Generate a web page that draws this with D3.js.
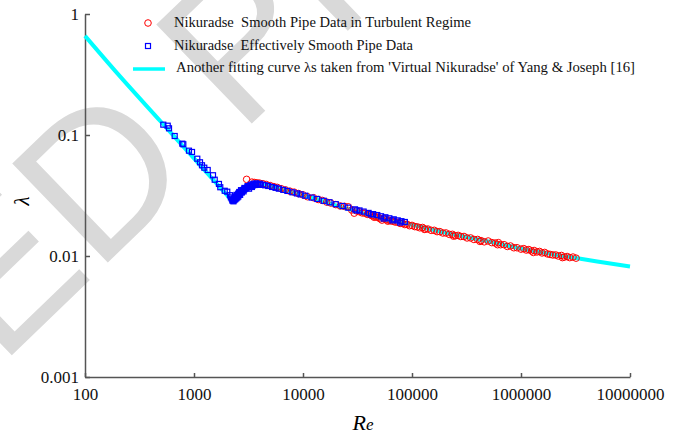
<!DOCTYPE html>
<meta charset="utf-8">
<head>
    <script src="https://d3js.org/d3.v7.min.js"></script>
    <style>
        body {
            margin: 0px;
            padding: 0px;
            background: #fff;
        }

        .axis path,
        .axis line {
            stroke: #555;
            stroke-width: 1.5px;
        }
    </style>
    <title>Nikuradse smooth pipe</title>
</head>

<body>
    <div id="chart"></div>

    <script>
        var serif = "'Liberation Serif', 'Times New Roman', 'DejaVu Serif', serif";

        // tick values on both log axes
        var xTicks = [100, 1000, 10000, 100000, 1000000, 10000000];
        var yTicks = [0.001, 0.01, 0.1, 1];

        // cyan fitting curve (Yang & Joseph)
        var curveRe = [100, 200, 500, 1000, 1500, 2000, 2300, 2500, 2800, 3200, 3700, 4300, 5000,
            7000, 10000, 15000, 20000, 30000, 50000, 70000, 100000, 150000, 200000, 300000,
            500000, 700000, 1000000, 1500000, 2000000, 3000000, 5000000, 10000000];
        var curveLambda = [0.66, 0.32, 0.128, 0.064, 0.0427, 0.032, 0.0282, 0.0300, 0.0340, 0.0372, 0.0386, 0.0385, 0.0376,
            0.0346, 0.0318, 0.0286, 0.0262, 0.0236, 0.0206, 0.0193, 0.0181, 0.0166, 0.0156, 0.0145,
            0.0132, 0.0124, 0.0115, 0.0108, 0.0103, 0.0097, 0.0090, 0.0082];

        // red circles: smooth pipe data in turbulent regime
        var redRe = [3040, 3400, 3600, 3800, 4000, 4300, 4600, 5000, 5400, 5800, 6300, 6900, 7600, 8300,
            9100, 10000, 11000, 12500, 13800, 15000, 16500, 18000, 20000, 22000, 24000, 26000, 28000,
            29500, 31000, 33000, 35000, 37000, 39000, 41000, 43000, 45000, 47000, 49000, 51000, 53000,
            55000, 58000, 61000, 64000, 67000, 70000, 74000, 78000, 82000, 86000, 90000, 95000, 100000,
            106000, 112000, 118000, 125000, 132000, 140000, 150000, 160000, 170000, 180000, 192000,
            205000, 220000, 235000, 250000, 265000, 280000, 300000, 320000, 345000, 370000, 400000,
            430000, 460000, 500000, 540000, 580000, 620000, 650000, 700000, 750000, 800000, 860000,
            920000, 1000000, 1060000, 1120000, 1180000, 1250000, 1320000, 1400000, 1480000, 1560000,
            1650000, 1750000, 1850000, 1960000, 2080000, 2200000, 2350000, 2500000, 2650000, 2800000,
            3000000, 3200000, 45000, 60000, 130000, 240000, 420000, 610000, 1300000, 2400000];
        var redLambda = [0.0430, 0.0408, 0.0405, 0.0402, 0.0400, 0.0395, 0.0390, 0.0382, 0.0374, 0.0369, 0.0360, 0.0352, 0.0343, 0.0337,
            0.0328, 0.0320, 0.0309, 0.0303, 0.0293, 0.0288, 0.0279, 0.0274, 0.0266, 0.0259, 0.0257, 0.0255, 0.0240,
            0.0226, 0.0236, 0.0232, 0.0227, 0.0226, 0.0221, 0.0220, 0.0215, 0.0214, 0.0210, 0.0209, 0.0203, 0.0198,
            0.0205, 0.0199, 0.0198, 0.0195, 0.0194, 0.0191, 0.0190, 0.0186, 0.0186, 0.0182, 0.0183, 0.0178, 0.0179,
            0.0175, 0.0174, 0.0171, 0.0172, 0.0167, 0.0167, 0.0163, 0.0163, 0.0159, 0.0159, 0.0155,
            0.0155, 0.0151, 0.0151, 0.0147, 0.0148, 0.0145, 0.0145, 0.0141, 0.0141, 0.0137, 0.0137,
            0.0134, 0.0131, 0.0133, 0.0129, 0.0128, 0.0129, 0.0124, 0.0124, 0.0120, 0.0121, 0.0117,
            0.0117, 0.0114, 0.0115, 0.0112, 0.0113, 0.0110, 0.0111, 0.0108, 0.0109, 0.0106,
            0.0107, 0.0104, 0.0103, 0.0102, 0.0102, 0.0100, 0.0101, 0.0098, 0.0099, 0.0097,
            0.0098, 0.0096, 0.0209, 0.0194, 0.0166, 0.0146, 0.0132, 0.0124, 0.0107, 0.0097];

        // blue squares: effectively smooth pipe data
        var blueRe = [523, 574, 590, 665, 781, 798, 899, 959, 1072, 1135, 1184, 1243, 1336, 1494, 1549,
            1694, 1742, 1913, 2019, 2138, 2180, 2220, 2260, 2300, 2320, 2350, 2380, 2420, 2450, 2500,
            2540, 2580, 2620, 2660, 2700, 2750, 2800, 2850, 2900, 2950, 3000, 3080, 3150, 3250, 3350,
            3450, 3600, 3750, 3900, 4100, 4300, 4500, 4800, 5200, 5600, 6000, 6600, 7200, 8000, 8800,
            9500, 10500, 12000, 13500, 15500, 17500, 20000, 23000, 26000, 30000, 33000, 36000, 40000,
            44000, 48000, 52000, 57000, 62000, 68000, 74000, 80000, 86000,
            2250, 2300, 2350, 2400, 2450, 2500, 2550, 2450, 2550, 2650, 2750, 2850, 2600, 2700, 2900,
            3100, 3300, 3500, 3700, 4000, 3200, 3400, 31000, 42000, 55000, 66000, 78000];
        var blueLambda = [0.1217, 0.1194, 0.1136, 0.0981, 0.0848, 0.0838, 0.0742, 0.0724, 0.0637, 0.0595, 0.0562, 0.0537, 0.0514, 0.0465, 0.0427,
            0.0394, 0.0370, 0.0346, 0.0340, 0.0318, 0.0305, 0.0298, 0.0292, 0.0288, 0.0296, 0.0300, 0.0304, 0.0306, 0.0312, 0.0316,
            0.0322, 0.0326, 0.0331, 0.0334, 0.0340, 0.0343, 0.0348, 0.0352, 0.0356, 0.0360, 0.0364, 0.0368, 0.0372, 0.0376, 0.0379,
            0.0382, 0.0386, 0.0388, 0.0389, 0.0389, 0.0387, 0.0384, 0.0379, 0.0372, 0.0366, 0.0360, 0.0352, 0.0345, 0.0336, 0.0329,
            0.0323, 0.0315, 0.0304, 0.0296, 0.0286, 0.0278, 0.0268, 0.0259, 0.0251, 0.0243, 0.0238, 0.0233, 0.0227,
            0.0222, 0.0218, 0.0213, 0.0209, 0.0205, 0.0201, 0.0197, 0.0194, 0.0191,
            0.0287, 0.0283, 0.0290, 0.0295, 0.0300, 0.0305, 0.0310, 0.0320, 0.0328, 0.0320, 0.0335, 0.0342, 0.0338, 0.0350, 0.0365,
            0.0378, 0.0388, 0.0395, 0.0398, 0.0396, 0.0360, 0.0372, 0.0238, 0.0221, 0.0204, 0.0197, 0.0189];

        var legendLabels = ["Nikuradse  Smooth Pipe Data in Turbulent Regime",
            "Nikuradse  Effectively Smooth Pipe Data",
            "Another fitting curve \u03bbs taken from 'Virtual Nikuradse' of Yang & Joseph [16]"];
        var legendWidths = [297, 239, 459];

        var width = 683,
            height = 434;

        var svg = d3.select("#chart").append("svg")
            .attr("width", width)
            .attr("height", height);

        // faint watermark behind everything
        var fs = 200,
            deg = -44,
            ang = deg * Math.PI / 180;
        var wm = svg.append("text")
            .text("UNCORRECTED PROOF")
            .style("font-family", "'Liberation Sans', Arial, sans-serif")
            .style("font-size", fs + "px")
            .style("fill", "#d9d9d9");
        var node = wm.node();
        var dx = node.getSubStringLength(0, 10) + node.getSubStringLength(10, 1) / 2;
        var dy = -0.36 * fs;
        var rx = dx * Math.cos(ang) - dy * Math.sin(ang),
            ry = dx * Math.sin(ang) + dy * Math.cos(ang);
        wm.attr("transform", "translate(" + (98 - rx) + "," + (172 - ry) + ") rotate(" + deg + ")");

        var x = d3.scaleLog().domain([100, 10000000]).range([85, 630]);
        var y = d3.scaleLog().domain([0.001, 1]).range([377, 14]);

        //axes
        var xAxis = d3.axisBottom(x)
            .tickValues(xTicks)
            .tickFormat(d3.format("d"))
            .tickSize(-4)
            .tickSizeOuter(0)
            .tickPadding(11);
        svg.append("g")
            .attr("class", "axis")
            .attr("transform", "translate(0,377)")
            .call(xAxis);

        var yAxis = d3.axisLeft(y)
            .tickValues(yTicks)
            .tickFormat(function (d) { return String(d); })
            .tickSize(-5)
            .tickSizeOuter(0)
            .tickPadding(6);
        svg.append("g")
            .attr("class", "axis")
            .attr("transform", "translate(85,0)")
            .call(yAxis);

        svg.selectAll(".axis text")
            .style("font-family", serif)
            .style("font-size", "17px")
            .style("fill", "#111");

        // cyan curve
        var curve = curveRe.map(function (d, i) { return [d, curveLambda[i]]; });
        var line = d3.line()
            .x(function (d) { return x(d[0]); })
            .y(function (d) { return y(d[1]); })
            .curve(d3.curveMonotoneX);
        svg.append("path")
            .datum(curve)
            .attr("d", line)
            .attr("fill", "none")
            .attr("stroke", "#00ffff")
            .attr("stroke-width", 4);

        // red circles
        svg.append("g").selectAll("circle")
            .data(redRe)
            .enter().append("circle")
            .attr("cx", function (d) { return x(d); })
            .attr("cy", function (d, i) { return y(redLambda[i]); })
            .attr("r", 3.3)
            .attr("fill", "none")
            .attr("stroke", "#ff0000")
            .attr("stroke-width", 1);

        // blue squares
        svg.append("g").selectAll("rect")
            .data(blueRe)
            .enter().append("rect")
            .attr("x", function (d) { return x(d) - 2.5; })
            .attr("y", function (d, i) { return y(blueLambda[i]) - 2.5; })
            .attr("width", 5)
            .attr("height", 5)
            .attr("fill", "none")
            .attr("stroke", "#0000ff")
            .attr("stroke-width", 1.2);

        // legend
        var legend = svg.append("g");
        legend.append("circle")
            .attr("cx", 148).attr("cy", 23).attr("r", 3.3)
            .attr("fill", "none").attr("stroke", "#ff0000");
        legend.append("rect")
            .attr("x", 145.5).attr("y", 43.5).attr("width", 5).attr("height", 5)
            .attr("fill", "none").attr("stroke", "#0000ff").attr("stroke-width", 1.2);
        legend.append("line")
            .attr("x1", 133).attr("x2", 165).attr("y1", 69).attr("y2", 69)
            .attr("stroke", "#00ffff").attr("stroke-width", 3.5);
        legend.selectAll("text.lab")
            .data(legendLabels)
            .enter().append("text")
            .attr("class", "lab")
            .attr("x", function (d, i) { return i == 2 ? 176 : 174; })
            .attr("y", function (d, i) { return 27 + i * 22.5; })
            .attr("textLength", function (d, i) { return legendWidths[i]; })
            .attr("lengthAdjust", "spacingAndGlyphs")
            .style("font-family", serif)
            .style("font-size", "15px")
            .style("fill", "#111")
            .style("white-space", "pre")
            .text(function (d) { return d; });

        // axis titles
        svg.append("text")
            .attr("transform", "translate(29,201) rotate(-90)")
            .attr("text-anchor", "middle")
            .style("font-family", serif)
            .style("font-size", "21px")
            .style("font-style", "italic")
            .text("\u03bb");

        var reLabel = svg.append("text")
            .attr("x", 363)
            .attr("y", 430)
            .attr("text-anchor", "middle")
            .style("font-family", serif)
            .style("font-size", "22px")
            .style("font-style", "italic");
        reLabel.append("tspan").text("R");
        reLabel.append("tspan").style("font-size", "17px").text("e");
    </script>
</body>
